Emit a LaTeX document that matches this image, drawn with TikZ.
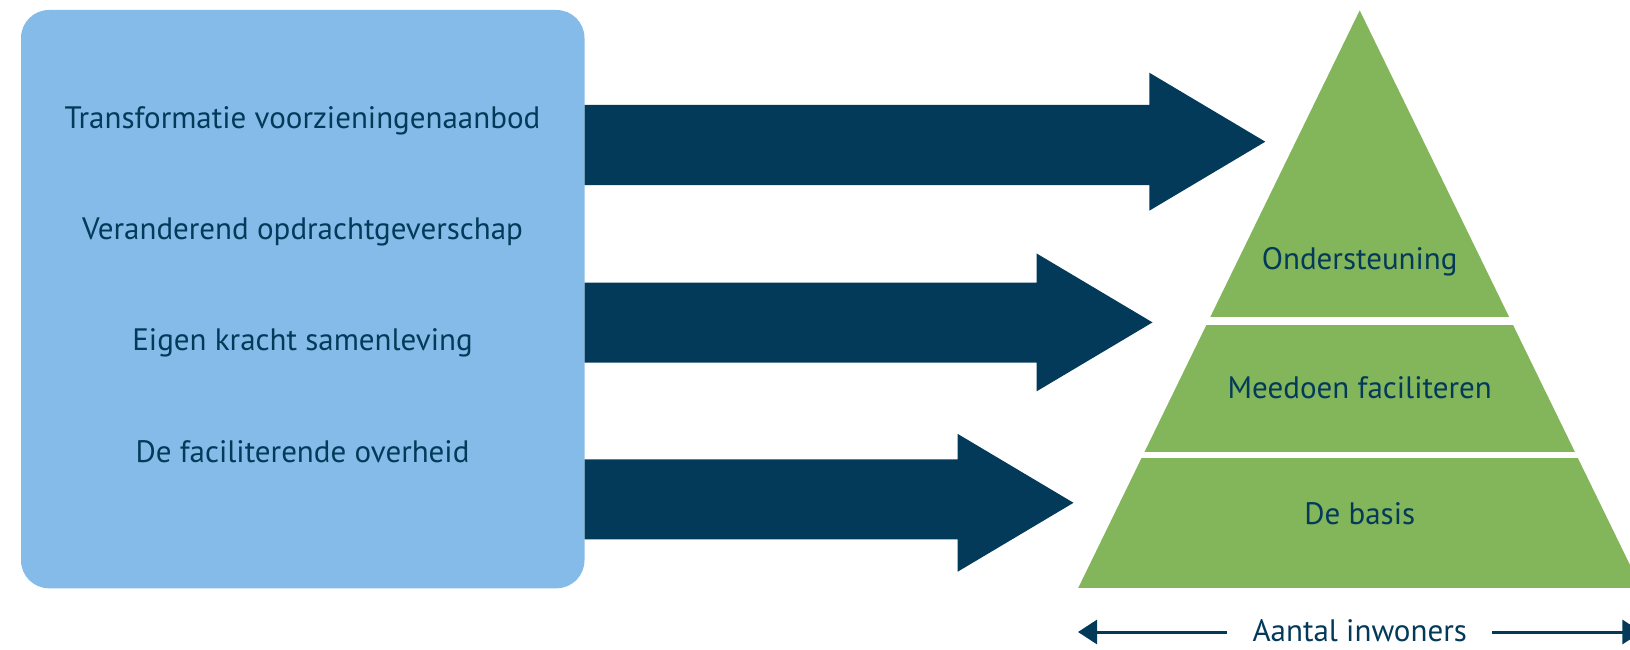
\documentclass[tikz,border=0pt]{standalone}
\usepackage{fontspec}
\setmainfont{PT Sans}
\usepackage{tikz}
\usetikzlibrary{arrows.meta}
\definecolor{vakblauw}{HTML}{85BBE8}
\definecolor{donkerblauw}{HTML}{033A5A}
\definecolor{piramidegroen}{HTML}{83B55B}
\tikzset{>={Triangle[length=19pt, width=24pt]}}
\tikzset{tekst/.style={text=donkerblauw, font=\fontsize{31}{37}\selectfont}}
\newcommand{\blokpijl}[3]{
	\fill[donkerblauw](584.5, #1-40)--(#3, #1-40)--(#3, #2-69)--(#3+116, #2)--(#3, #2+69)--(#3, #1+40)--(584.5, #1+40)--cycle
}

\begin{document}
\begin{tikzpicture}[x=1pt, y=-1pt]
	\clip(0, 0)rectangle(1630, 650);
	\node[fill=vakblauw, rounded corners=28pt, minimum width=563.5pt, minimum height=578.3pt, inner sep=0pt](vak)at(302.75, 299.15){};
	\node[tekst](t1)at(302.5, 120.5){Transformatie voorzieningenaanbod};
	\node[tekst](t2)at(302.5, 231.7){Veranderend opdrachtgeverschap};
	\node[tekst](t3)at(302.5, 343){Eigen kracht samenleving};
	\node[tekst](t4)at(302.5, 452){De faciliterende overheid};
	\blokpijl{145}{141.7}{1149.3};
	\blokpijl{322.7}{322.4}{1036.5};
	\blokpijl{499.3}{502.8}{957.5};
	\coordinate(top)at(1359.7, 10.4);
	\coordinate(links)at(1078, 588.4);
	\coordinate(rechts)at(1641.4, 588.4);
	\begin{scope}
		\clip(top)--(links)--(rechts)--cycle;
		\fill[piramidegroen](1000, 0)rectangle(1700, 317);
		\fill[piramidegroen](1000, 325.4)rectangle(1700, 452.2);
		\fill[piramidegroen](1000, 458.4)rectangle(1700, 588.4);
	\end{scope}
	\node[tekst](ondersteuning)at(1359.7, 261.8){Ondersteuning};
	\node[tekst](meedoen)at(1359.7, 387.7){Meedoen faciliteren};
	\node[tekst](basis)at(1359.7, 513.5){De basis};
	\node[tekst, inner xsep=25pt](inwoners)at(1359.7, 631){Aantal inwoners};
	\coordinate(pijllinks)at(1078, 632);
	\coordinate(pijlrechts)at(1641.4, 632);
	\draw[donkerblauw, line width=3pt, ->](inwoners.west|-pijllinks)--(pijllinks);
	\draw[donkerblauw, line width=3pt, ->](inwoners.east|-pijlrechts)--(pijlrechts);
\end{tikzpicture}
\end{document}
